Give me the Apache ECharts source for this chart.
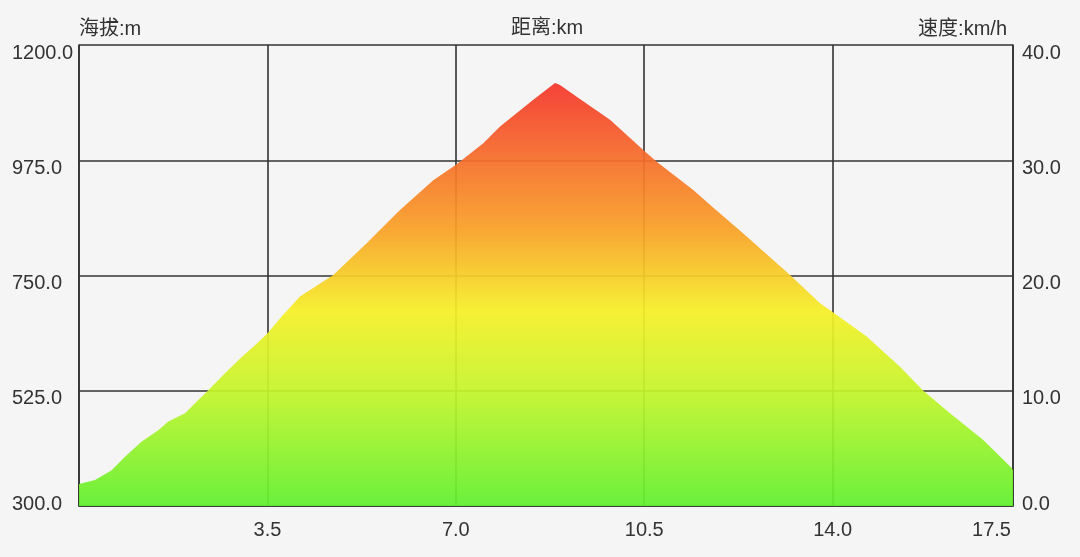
<!DOCTYPE html>
<html>
<head>
<meta charset="utf-8">
<script src="https://cdn.jsdelivr.net/npm/echarts@6/dist/echarts.min.js"></script>
<style>
html,body{margin:0;padding:0;background:#f5f5f5;}
#c{width:1080px;height:557px;}
</style>
</head>
<body>
<div id="c"></div>
<script>
// distance (km) and elevation (m)
const distanceKm = [0, 0.297, 0.607, 0.855, 1.165, 1.473, 1.659, 1.969, 2.216, 2.402, 2.712, 3.022, 3.269, 3.498, 3.765, 4.105, 4.724, 5.344, 5.963, 6.581, 7.003, 7.510, 7.821, 8.439, 8.842, 8.935, 9.245, 9.864, 10.482, 10.731, 11.411, 11.721, 12.340, 13.208, 13.765, 13.993, 14.632, 15.251, 15.684, 16.180, 16.798, 17.326, 17.35];
const elevationM = [343, 351, 370, 396, 426, 448, 465, 481, 507, 526, 559, 591, 614, 637, 670, 709, 751, 813, 878, 936, 966, 1008, 1041, 1093, 1126, 1122, 1099, 1054, 995, 972, 917, 888, 832, 751, 696, 679, 631, 572, 525, 481, 429, 374, 370];

const leftTicks = [300, 525, 750, 975, 1200];
const rightTicks = [0, 10, 20, 30, 40];
const xTickLabels = ['3.5', '7.0', '10.5', '14.0', '17.5'];
const xInterval = 3.5;
const xMax = 17.35;

const names = { left: '海拔:m', center: '距离:km', right: '速度:km/h' };

const FONT = '"Liberation Sans", "Noto Sans CJK SC", sans-serif';
const TXT = '#333';
const LINE = '#333';

const chart = echarts.init(document.getElementById('c'));
chart.setOption({
  backgroundColor: '#f5f5f5',
  animation: false,
  title: {
    text: names.center,
    left: 511, top: 18, padding: 0,
    textStyle: { fontSize: 20, fontWeight: 'normal', color: TXT, fontFamily: FONT }
  },
  grid: { left: 79, right: 67, top: 45, bottom: 51, show: false },
  xAxis: {
    type: 'value', min: 0, max: xMax, interval: xInterval,
    axisLine: { show: true, lineStyle: { color: LINE, width: 1.6 } },
    axisTick: { show: false },
    splitLine: { show: true, lineStyle: { color: LINE, width: 1.6 } },
    axisLabel: {
      showMinLabel: false, showMaxLabel: true,
      margin: 14, fontSize: 20, color: TXT, fontFamily: FONT,
      formatter: function (v) {
        if (v >= xMax - 1e-6) return '{last|' + xTickLabels[xTickLabels.length - 1] + '}';
        const i = Math.round(v / xInterval) - 1;
        return xTickLabels[i] || '';
      },
      rich: { last: { fontSize: 20, color: TXT, fontFamily: FONT, padding: [0, 43, 0, 0] } }
    }
  },
  yAxis: [{
    type: 'value',
    min: leftTicks[0], max: leftTicks[leftTicks.length - 1], interval: leftTicks[1] - leftTicks[0],
    name: names.left, nameLocation: 'end', nameGap: 6,
    nameTextStyle: { fontSize: 20, color: TXT, fontFamily: FONT, align: 'left' },
    axisLine: { show: true, lineStyle: { color: LINE, width: 1.6 } },
    axisTick: { show: false },
    splitLine: { show: true, lineStyle: { color: LINE, width: 1.6 } },
    axisLabel: {
      align: 'left', margin: 67, fontSize: 20, color: TXT, fontFamily: FONT,
      formatter: function (v) {
        return v === leftTicks[0] ? '{b|' + v.toFixed(1) + '}' : '{a|' + v.toFixed(1) + '}';
      },
      rich: {
        a: { fontSize: 20, color: TXT, fontFamily: FONT, padding: [16, 0, 0, 0] },
        b: { fontSize: 20, color: TXT, fontFamily: FONT, padding: [0, 0, 4, 0] }
      }
    }
  }, {
    type: 'value', position: 'right',
    min: rightTicks[0], max: rightTicks[rightTicks.length - 1], interval: rightTicks[1] - rightTicks[0],
    name: names.right, nameLocation: 'end', nameGap: 6,
    nameTextStyle: { fontSize: 20, color: TXT, fontFamily: FONT, align: 'right', padding: [0, 6, 0, 0] },
    axisLine: { show: true, lineStyle: { color: LINE, width: 1.6 } },
    axisTick: { show: false },
    splitLine: { show: false },
    axisLabel: {
      align: 'left', margin: 9, fontSize: 20, color: TXT, fontFamily: FONT,
      formatter: function (v) {
        return v === rightTicks[0] ? '{b|' + v.toFixed(1) + '}' : '{a|' + v.toFixed(1) + '}';
      },
      rich: {
        a: { fontSize: 20, color: TXT, fontFamily: FONT, padding: [16, 0, 0, 0] },
        b: { fontSize: 20, color: TXT, fontFamily: FONT, padding: [0, 0, 4, 0] }
      }
    }
  }],
  series: [{
    type: 'line',
    yAxisIndex: 0,
    data: distanceKm.map((d, i) => [d, elevationM[i]]),
    showSymbol: false,
    symbol: 'none',
    lineStyle: { width: 0, opacity: 0 },
    areaStyle: {
      origin: 'start',
      opacity: 0.93,
      color: new echarts.graphic.LinearGradient(0, 0, 0, 1, [
        { offset: 0, color: '#f5352b' },
        { offset: 0.18, color: '#f66e2a' },
        { offset: 0.35, color: '#f9a226' },
        { offset: 0.54, color: '#f6f027' },
        { offset: 0.73, color: '#c4f52a' },
        { offset: 1, color: '#60f02e' }
      ])
    }
  }]
});
</script>
</body>
</html>
